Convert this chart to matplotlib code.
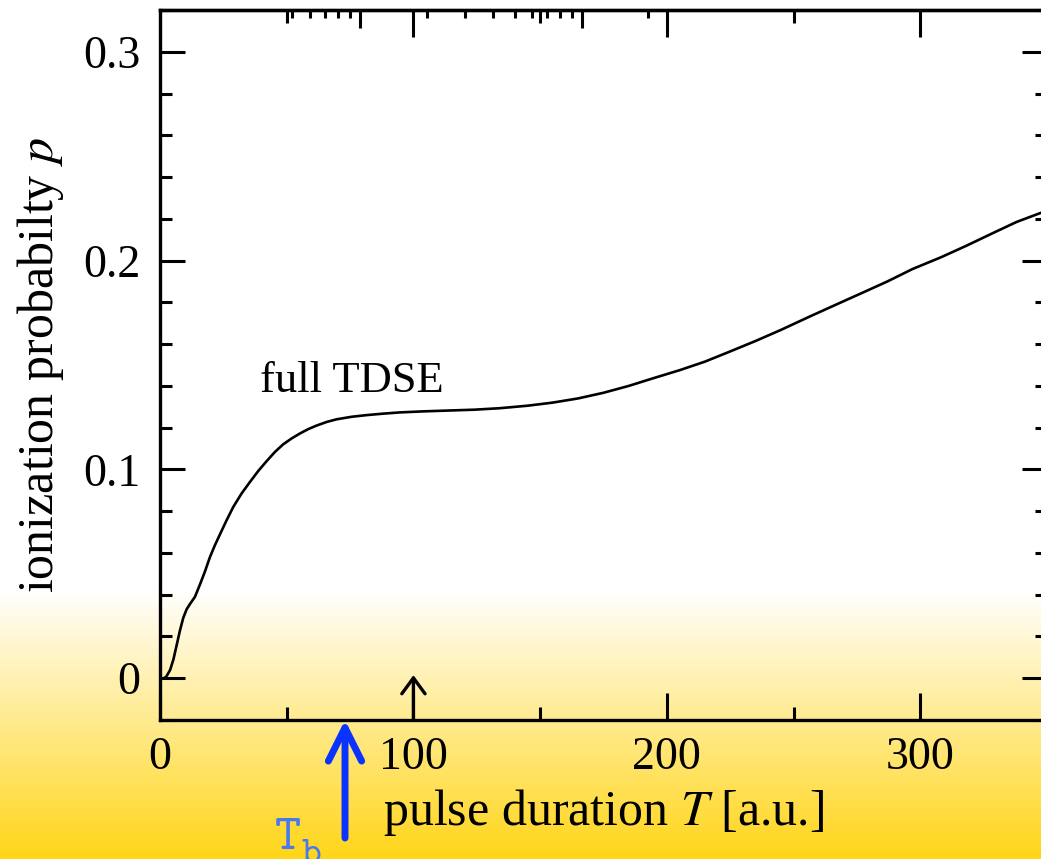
import numpy as np
import matplotlib
matplotlib.use("Agg")
import matplotlib.pyplot as plt
from matplotlib.ticker import FixedLocator, NullFormatter

plt.rcParams['font.family'] = ['Liberation Serif', 'DejaVu Serif']
plt.rcParams['mathtext.fontset'] = 'stix'

# full TDSE ionization probability vs pulse duration
T_vals = [1.5, 2.5, 4, 5.3, 6.6, 7.9, 9.2, 10.5, 11.8, 13.8, 15.8, 17.7, 19.7,
          21.7, 23.7, 26.3, 28.9, 32.2, 35.5, 38.8, 42.1, 45.3, 48.6, 51.9,
          55.2, 58.5, 61.8, 65.7, 69.7, 75.6, 81.5, 88, 94.7, 104, 114, 124,
          134, 145, 155, 165, 175, 185, 195, 205, 215, 225, 235, 245, 256,
          266, 277, 287, 297, 308, 318, 328, 338, 347, 352]
p_vals = [0.0, 0.0008, 0.004, 0.009, 0.016, 0.023, 0.029, 0.033, 0.0355, 0.039,
          0.045, 0.051, 0.058, 0.0638, 0.069, 0.0757, 0.082, 0.0885, 0.094,
          0.0993, 0.104, 0.1083, 0.112, 0.1148, 0.1172, 0.1193, 0.121, 0.1227,
          0.124, 0.1252, 0.126, 0.1267, 0.1273, 0.1278, 0.1282, 0.1286,
          0.1293, 0.1305, 0.132, 0.134, 0.1367, 0.140, 0.1438, 0.1475, 0.1516,
          0.1565, 0.1615, 0.1668, 0.173, 0.1785, 0.1845, 0.190, 0.196, 0.2015,
          0.207, 0.2128, 0.2185, 0.2226, 0.2248]

x_major = [0, 100, 200, 300]
x_labels = ['0', '100', '200', '300']
x_minor = [50, 150, 250]
y_major = [0, 0.1, 0.2, 0.3]
y_labels = ['0', '0.1', '0.2', '0.3']
y_minor = [-0.02, 0.02, 0.04, 0.06, 0.08, 0.12, 0.14, 0.16, 0.18,
           0.22, 0.24, 0.26, 0.28, 0.32]

# extra (unlabelled) ticks along the top edge
top_long = [78.9, 166.5]
top_short = [52, 59.2, 65.1, 70.2, 75, 105.3, 120.3, 131.4, 140, 146.7,
             152.7, 157.8, 162.5, 192.5]

T_b = 73        # blue arrow
T_mark = 100    # small black arrow


fig = plt.figure(figsize=(10.41, 8.59), dpi=100)

# white -> gold gradient in the lower part of the figure
bg = fig.add_axes([0, 0, 1, 1], zorder=-5)
bg.set_axis_off()
n = 400
frac = np.linspace(0, 1, n)                 # 0 at bottom, 1 at top
t = np.clip((0.313 - frac) / 0.313, 0, 1)   # 1 at bottom, 0 above y=590px
white = np.array([1.0, 1.0, 1.0])
gold = np.array([255, 213, 25]) / 255
cols = white[None, :] * (1 - t[:, None]) + gold[None, :] * t[:, None]
bg.imshow(cols[:, None, :], aspect='auto', origin='lower', extent=[0, 1, 0, 1])
bg.set_xlim(0, 1)
bg.set_ylim(0, 1)

ax = fig.add_axes([160 / 1041, 139 / 859, 887 / 1041, 710 / 859])
ax.set_facecolor('none')
ax.plot(T_vals, p_vals, color='black', lw=1.9, solid_capstyle='round',
        solid_joinstyle='round', zorder=3)

ax.set_xlim(0, 350)
ax.set_ylim(-0.02, 0.32)

ax.set_xticks(x_major)
ax.set_xticklabels(x_labels)
ax.xaxis.set_minor_locator(FixedLocator(x_minor))
ax.xaxis.set_minor_formatter(NullFormatter())
ax.set_yticks(y_major)
ax.set_yticklabels(y_labels)
ax.yaxis.set_minor_locator(FixedLocator(y_minor))

ax.tick_params(which='both', direction='in', top=True, right=True, width=2.2,
               colors='black', labelsize=33)
ax.tick_params(axis='x', which='major', length=19.5, pad=12)
ax.tick_params(axis='x', which='minor', length=9.5)
ax.tick_params(axis='y', which='major', length=18, pad=14)
ax.tick_params(axis='y', which='minor', length=8.6)

for side in ['left', 'bottom', 'top', 'right']:
    ax.spines[side].set_linewidth(2.4)

sec = ax.secondary_xaxis('top')
sec.xaxis.set_major_locator(FixedLocator(top_long))
sec.xaxis.set_minor_locator(FixedLocator(top_short))
sec.tick_params(which='both', direction='in', width=2.2, labeltop=False)
sec.tick_params(which='major', length=13)
sec.tick_params(which='minor', length=5.8)
sec.spines['top'].set_linewidth(2.4)

ax.set_xlabel(r'pulse duration $T$ [a.u.]', fontsize=36)
ax.set_ylabel(r'ionization probabilty $p$', fontsize=36)
ax.xaxis.set_label_coords(0.5, -0.094)
ax.yaxis.set_label_coords(-0.106, 0.5)

ax.text(39.5, 0.137, 'full TDSE', fontsize=32, ha='left', va='baseline')

ax.annotate('', xy=(T_mark, 0.0015), xytext=(T_mark, -0.02),
            arrowprops=dict(arrowstyle='->, head_length=0.3, head_width=0.22',
                            lw=2.4, color='black', mutation_scale=38,
                            shrinkA=0, shrinkB=0), zorder=4)

ax.annotate('', xy=(T_b, -0.02), xytext=(0, -118), textcoords='offset pixels',
            arrowprops=dict(arrowstyle='->, head_length=0.6, head_width=0.3',
                            lw=5, color='#0a33ff', mutation_scale=40,
                            shrinkA=0, shrinkB=0),
            annotation_clip=False, zorder=5)
# "T_b" label in typewriter type, the subscript drawn separately so it stays large
ax.annotate(r'$\mathtt{T}$', xy=(T_b, -0.02), xytext=(-71, -129),
            textcoords='offset pixels', fontsize=36, math_fontfamily='cm',
            color='#4a78ee', ha='left', va='baseline', annotation_clip=False)
ax.annotate(r'$\mathtt{b}$', xy=(T_b, -0.02), xytext=(-44, -143),
            textcoords='offset pixels', fontsize=27, math_fontfamily='cm',
            color='#4a78ee', ha='left', va='baseline', annotation_clip=False)

fig.savefig('out.png', dpi=100)
